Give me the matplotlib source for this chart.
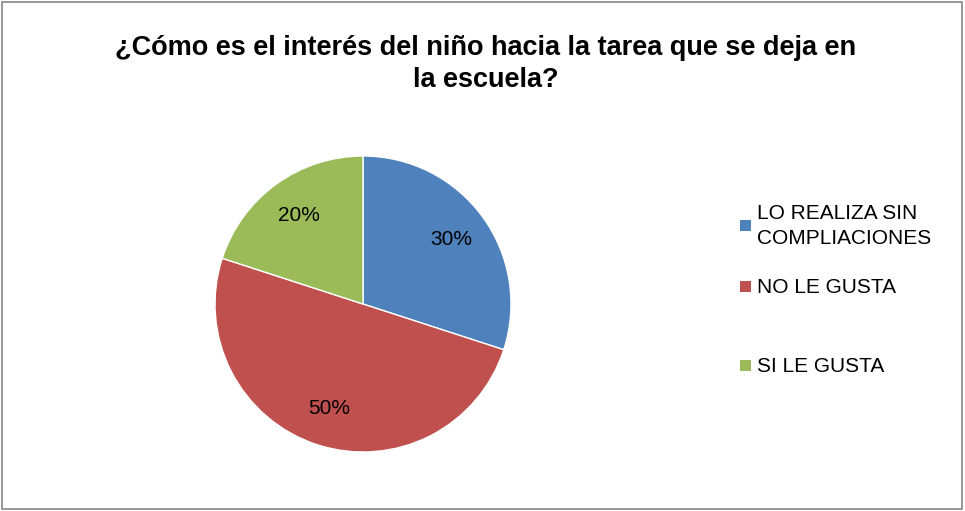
import matplotlib
matplotlib.use("Agg")
import matplotlib.pyplot as plt
from matplotlib.patches import Rectangle

title = "¿Cómo es el interés del niño hacia la tarea que se deja en\nla escuela?"
categories = ["LO REALIZA SIN\nCOMPLIACIONES", "NO LE GUSTA", "SI LE GUSTA"]
values = [30, 50, 20]
colors = ["#4F81BD", "#C0504D", "#9BBB59"]

fig = plt.figure(figsize=(9.65, 5.11), dpi=100)
fig.patch.set_facecolor("white")
fig.add_artist(Rectangle((0.002, 0.004), 0.995, 0.992, transform=fig.transFigure,
                         fill=False, edgecolor="#868686", linewidth=1.2))

fig.text(486/965, 1-64/511, title, ha="center", va="center", fontsize=19.5,
         fontweight="bold", family="Liberation Sans", linespacing=1.3)

cx, cy, r = 363/965, 1-304/511, 148
ax = fig.add_axes([cx - r/965, cy - r/511, 2*r/965, 2*r/511])
ax.pie(values, colors=colors, startangle=90, counterclock=False,
       autopct=lambda p: f"{p:.0f}%", pctdistance=0.74,
       wedgeprops=dict(edgecolor="white", linewidth=1),
       textprops=dict(fontsize=15, family="Liberation Sans", color="black"))
ax.set_xlim(-1, 1)
ax.set_ylim(-1, 1)
ax.set_aspect("equal")

ys = [1-226/511, 1-287/511, 1-366/511]
for lab, col, y in zip(categories, colors, ys):
    fig.add_artist(Rectangle((740/965, y - 5/511), 11/965, 11/511,
                             transform=fig.transFigure, facecolor=col, edgecolor="none"))
    fig.text(757/965, y, lab, ha="left", va="center", fontsize=15,
             family="Liberation Sans", linespacing=1.4)

fig.savefig("out.png", dpi=100)
